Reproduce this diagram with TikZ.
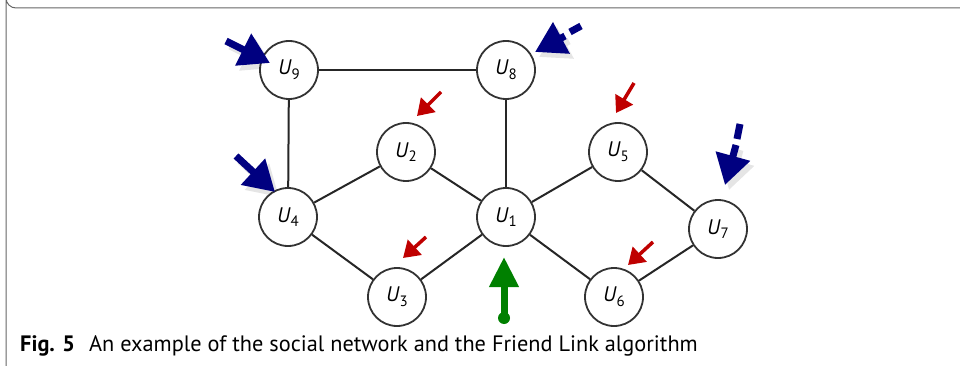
\documentclass[tikz,border=0pt]{standalone}
\usepackage{fontspec}
\setsansfont{PT Sans}
\usetikzlibrary{arrows.meta}
\tikzset{
  user/.style={circle,draw=black!80,line width=1.8pt,minimum size=58pt,inner sep=0pt,fill=white,font=\sffamily\fontsize{21}{21}\selectfont},
  link/.style={draw=black!85,line width=2pt},
  bigarr/.style={draw=blue!50!black,line width=7pt,-{Triangle[length=30pt,width=34pt]}},
  smallarr/.style={draw=red!75!black,line width=3.5pt,-{Triangle[length=16pt,width=20pt]}},
  shade/.style={draw=black!10,line width=7pt,-{Triangle[length=30pt,width=34pt]},shift={(4,5)}}
}
\newcommand{\usr}[1]{\textit{U}\raisebox{-0.22em}{\fontsize{15}{15}\selectfont#1}}
\begin{document}
\begin{tikzpicture}[x=1pt,y=-1pt]
\useasboundingbox (0,0) rectangle (960,366);
% frame
\draw[black!60,line width=1pt] (960,8) -- (16,8) arc[start angle=90,end angle=180,radius=10] -- (6,366);
% shadows
\draw[shade] (226,41) -- (270,63);
\draw[shade] (236,156) -- (275,192);
\draw[shade] (565,36) -- (535,52);
\draw[shade] (736,145) -- (725,185);
% users
\node[user] (U9) at (289,70) {\usr{9}};
\node[user] (U8) at (506,70) {\usr{8}};
\node[user] (U2) at (406,152) {\usr{2}};
\node[user] (U5) at (618,152) {\usr{5}};
\node[user] (U4) at (288,217) {\usr{4}};
\node[user] (U1) at (506,217) {\usr{1}};
\node[user] (U7) at (718,229) {\usr{7}};
\node[user] (U3) at (397,297) {\usr{3}};
\node[user] (U6) at (614,297) {\usr{6}};
% friendships
\foreach \a/\b in {U9/U8,U9/U4,U8/U1,U4/U2,U2/U1,U4/U3,U3/U1,U1/U5,U1/U6,U5/U7,U6/U7}
  \draw[link] (\a) -- (\b);
% blue arrows
\draw[bigarr] (226,41) -- ([shift={(-19,-7)}]U9.center);
\draw[bigarr] (236,156) -- ([shift={(-13,-25)}]U4.center);
\draw[blue!50!black,line width=7pt] (581,26) -- (570,32);
\draw[bigarr] (565,36) -- ([shift={(29,-18)}]U8.center);
\draw[blue!50!black,line width=7pt] (740,124) -- (737,139);
\draw[bigarr] (736,145) -- ([shift={(7,-44)}]U7.center);
% red arrows
\draw[smallarr] (441,92) -- ([shift={(11,-36)}]U2.center);
\draw[smallarr] (634,83) -- ([shift={(-2,-39)}]U5.center);
\draw[smallarr] (426,237) -- ([shift={(6,-39)}]U3.center);
\draw[smallarr] (653,242) -- ([shift={(14,-32)}]U6.center);
% green arrow
\draw[green!50!black,line width=7pt,-{Triangle[length=30pt,width=28pt]}] (504,318) -- ([shift={(-2,40)}]U1.center);
\fill[green!50!black] (504,318) circle (6);
% caption
\node[anchor=base west,inner sep=0pt,font=\sffamily\fontsize{22.3}{22}\selectfont] (cap) at (20,351) {\textbf{Fig. 5}\hspace{14pt}An example of the social network and the Friend Link algorithm};
\end{tikzpicture}
\end{document}
